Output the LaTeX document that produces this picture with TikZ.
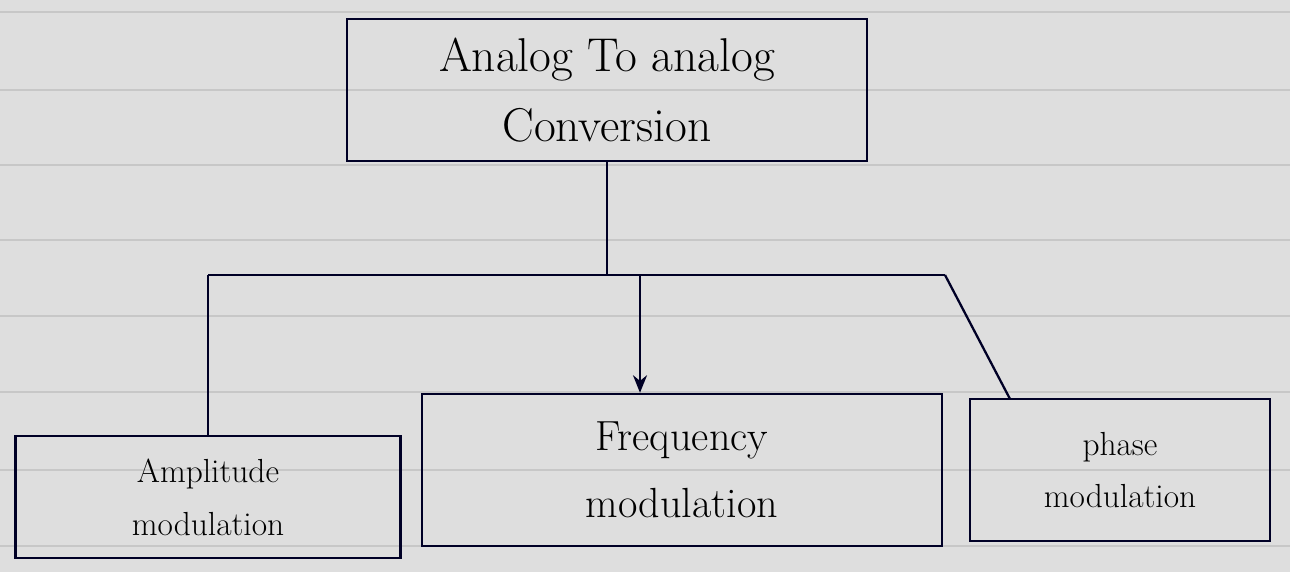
\documentclass[tikz,border=0pt]{standalone}
\usetikzlibrary{arrows.meta}
\begin{document}
\begin{tikzpicture}[x=0.02cm,y=-0.02cm,
  box/.style={draw=black!85!blue, line width=1.4pt, align=center, inner sep=0pt},
  conn/.style={draw=black!85!blue, line width=1.3pt},
  rule/.style={draw=black!22, line width=1pt}]
\useasboundingbox (0,0) rectangle (1290,572);
\fill[black!13] (0,0) rectangle (1290,572);
\foreach \yy in {12,90,165,240,316,392,470,546}
  \draw[rule] (0,\yy) -- (1290,\yy);
\node[box, minimum width=520*0.02cm, minimum height=142*0.02cm, font=\fontsize{27}{40}\selectfont] (root) at (607,90) {Analog To analog\\Conversion};
\node[box, minimum width=385*0.02cm, minimum height=122*0.02cm, font=\fontsize{19}{30}\selectfont] (am) at (208,497) {Amplitude\\modulation};
\node[box, minimum width=520*0.02cm, minimum height=152*0.02cm, font=\fontsize{24}{38}\selectfont] (fm) at (682,470) {Frequency\\modulation};
\node[box, minimum width=300*0.02cm, minimum height=142*0.02cm, font=\fontsize{19}{30}\selectfont] (pm) at (1120,470) {phase\\modulation};
\coordinate (j) at (root.south |- 0,275);
\coordinate (jl) at (am.north |- 0,275);
\coordinate (jm) at (640,275);
\coordinate (jr) at (945,275);
\coordinate (pmt) at (1010,399);
\draw[conn] (root.south) -- (j);
\draw[conn] (jl) -- (jr);
\draw[conn] (jl) -- (am.north);
\draw[conn,-{Stealth[length=10pt,width=8pt]}] (jm) -- (fm.north -| jm);
\draw[conn] (jr) -- (pmt);
\end{tikzpicture}
\end{document}
